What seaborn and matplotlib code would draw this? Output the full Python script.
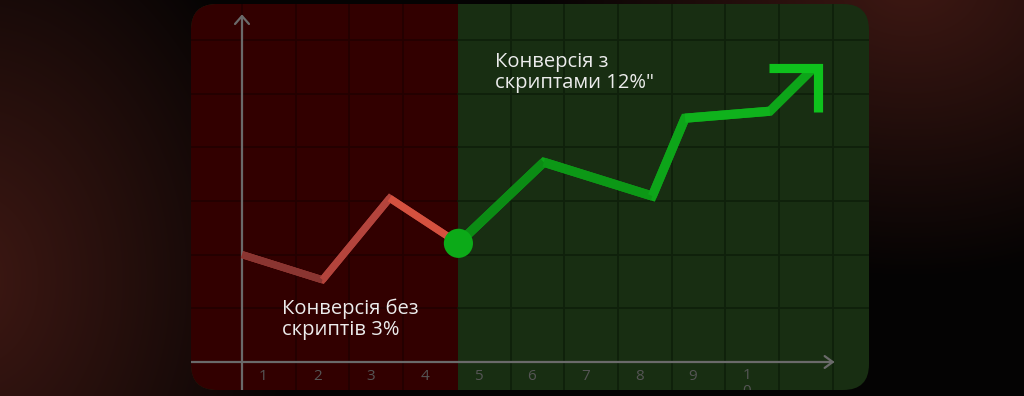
import numpy as np
import matplotlib
matplotlib.use("Agg")
import matplotlib.pyplot as plt
import seaborn as sns
import pandas as pd
from matplotlib.patches import FancyBboxPatch, Rectangle
from matplotlib.transforms import Bbox, TransformedBbox

# ---------------- data (grid units) ----------------
red_x = [0.0, 1.5, 2.75, 4.03]
red_y = [2.0, 1.53, 3.05, 2.21]
green_x = [4.03, 5.62, 7.64, 8.25, 9.83, 10.65]
green_y = [2.21, 3.72, 3.09, 4.54, 4.67, 5.48]
tick_pos = [0.4, 1.4, 2.4, 3.4, 4.4, 5.4, 6.4, 7.4, 8.4, 9.4]
tick_labels = ["1", "2", "3", "4", "5", "6", "7", "8", "9", "1\n0"]
label_without = "Конверсія без\nскриптів 3%"
label_with = "Конверсія з\nскриптами 12%\""
split_x = 4.03

red_seg_colors = ["#8a3531", "#b4443c", "#d4513f"]
green_seg_colors = ["#0b8c14", "#0c9816", "#0da519", "#0fb21c", "#10bd1e"]

# ---------------- figure ----------------
sns.set_style("white")
plt.rcParams['font.family'] = ['Open Sans', 'DejaVu Sans']

W, H = 1024, 396
S = 53.7          # px per grid unit
ox, oy = 242, 362  # pixel position of the origin

fig = plt.figure(figsize=(W / 100, H / 100), dpi=100)
ax = fig.add_axes([0, 0, 1, 1])
xmin, xmax = -ox / S, (W - ox) / S
ymin, ymax = (oy - H) / S, oy / S

# background with reddish glows
yy, xx = np.mgrid[0:H, 0:W].astype(float)
base = np.array([4, 3, 3], float)
glow = np.array([62, 24, 19], float)
d1 = np.hypot((xx + 30) / 330, (yy - 280) / 420)
d2 = np.hypot((xx - 910) / 380, (yy + 20) / 300)
g = np.clip(1 - d1, 0, 1) ** 0.9 + np.clip(1 - d2, 0, 1) ** 1.0
g = np.clip(g, 0, 1)
img = base[None, None, :] + g[..., None] * (glow - base)[None, None, :]
ax.imshow(img.astype(np.uint8), extent=[xmin, xmax, ymin, ymax],
          origin='upper', aspect='auto', zorder=0, interpolation='bilinear')

# panel
px0, px1 = (191 - ox) / S, (869 - ox) / S
py0, py1 = (oy - 390) / S, (oy - 4) / S
panel = FancyBboxPatch((px0, py0), px1 - px0, py1 - py0,
                       boxstyle="round,pad=0,rounding_size=0.48",
                       facecolor="#182e12", edgecolor="none", zorder=1)
ax.add_patch(panel)
red_rect = Rectangle((px0 - 1, py0 - 1), split_x - px0 + 1, py1 - py0 + 2,
                     facecolor="#320000", edgecolor="none", zorder=1.1)
ax.add_patch(red_rect)
red_rect.set_clip_path(panel)

# grid
for gy in range(1, 7):
    l1, = ax.plot([px0, split_x], [gy, gy], color="#230000", lw=1.3, zorder=2)
    l2, = ax.plot([split_x, px1], [gy, gy], color="#0f200b", lw=1.3, zorder=2)
    l1.set_clip_path(panel); l2.set_clip_path(panel)
for gx in range(0, 13):
    if gx == 4:
        continue
    col = "#230000" if gx < split_x else "#0f200b"
    l, = ax.plot([gx, gx], [py0, py1], color=col, lw=1.3, zorder=2)
    l.set_clip_path(panel)

# axes with arrows
axis_col = "#6a6a6a"
l, = ax.plot([px0, 11.0], [0, 0], color=axis_col, lw=1.6, zorder=3)
l.set_clip_path(panel)
ax.plot([10.85, 11.0, 10.85], [0.11, 0, -0.11], color=axis_col, lw=1.6, zorder=3)
l, = ax.plot([0, 0], [py0, (oy - 16) / S], color=axis_col, lw=1.6, zorder=3)
l.set_clip_path(panel)
ax.plot([-0.13, 0, 0.13], [(oy - 24) / S, (oy - 16) / S, (oy - 24) / S],
        color=axis_col, lw=1.6, zorder=3)

# tick labels (clipped to the panel bottom like the reference)
clipbox = TransformedBbox(Bbox.from_extents(px0, py0, px1, py1), ax.transData)
for tx, tl in zip(tick_pos, tick_labels):
    if '\n' in tl:
        t = ax.text(tx, -0.12, tl, color="#555555", fontsize=11,
                    ha='center', va='top', linespacing=1.05, zorder=3)
    else:
        t = ax.text(tx, -0.27, tl, color="#555555", fontsize=11,
                    ha='center', va='center', zorder=3)
    t.set_clip_on(True)
    t.set_clip_box(clipbox)


def segments(xs, ys):
    rows = []
    for i in range(len(xs) - 1):
        rows.append({"x": xs[i], "y": ys[i], "seg": i})
        rows.append({"x": xs[i + 1], "y": ys[i + 1], "seg": i})
    return pd.DataFrame(rows)


# series: base mitered line, then per-segment shading on top
red_df = pd.DataFrame({"x": red_x, "y": red_y})
green_df = pd.DataFrame({"x": green_x, "y": green_y})
sns.lineplot(data=red_df, x="x", y="y", ax=ax, color="#b4443c", linewidth=5.2,
             sort=False, estimator=None, solid_joinstyle='miter',
             solid_capstyle='butt', zorder=4)
sns.lineplot(data=segments(red_x, red_y), x="x", y="y", hue="seg",
             palette=red_seg_colors, ax=ax, linewidth=5.2, sort=False,
             estimator=None, units="seg", solid_capstyle='butt',
             legend=False, zorder=4.1)
sns.lineplot(data=green_df, x="x", y="y", ax=ax, color="#0da519", linewidth=6.6,
             sort=False, estimator=None, solid_joinstyle='miter',
             solid_capstyle='butt', zorder=4)
sns.lineplot(data=segments(green_x[:-1], green_y[:-1]), x="x", y="y", hue="seg",
             palette=green_seg_colors[:len(green_x) - 2], ax=ax, linewidth=6.6,
             sort=False, estimator=None, units="seg", solid_capstyle='butt',
             legend=False, zorder=4.1)

# arrow head
tx_, ty_ = green_x[-1], green_y[-1]
ax.plot([tx_ - 0.84, tx_ + 0.08, tx_ + 0.08], [ty_, ty_, ty_ - 0.82],
        color="#0ec21c", lw=6.6, solid_joinstyle='miter',
        solid_capstyle='butt', zorder=4)

# split point marker
ax.scatter([split_x], [red_y[-1]], s=21 ** 2, color="#0caa18",
           edgecolors='none', zorder=5)

# annotations
ax.text((282 - ox) / S, (oy - 299) / S, label_without, color="#ececec",
        fontsize=14.5, ha='left', va='top', linespacing=1.05, zorder=6)
ax.text((495 - ox) / S, (oy - 52) / S, label_with, color="#ececec",
        fontsize=14.5, ha='left', va='top', linespacing=1.05, zorder=6)

ax.set_xlim(xmin, xmax)
ax.set_ylim(ymin, ymax)
ax.axis('off')

fig.savefig("out.png", dpi=100)
